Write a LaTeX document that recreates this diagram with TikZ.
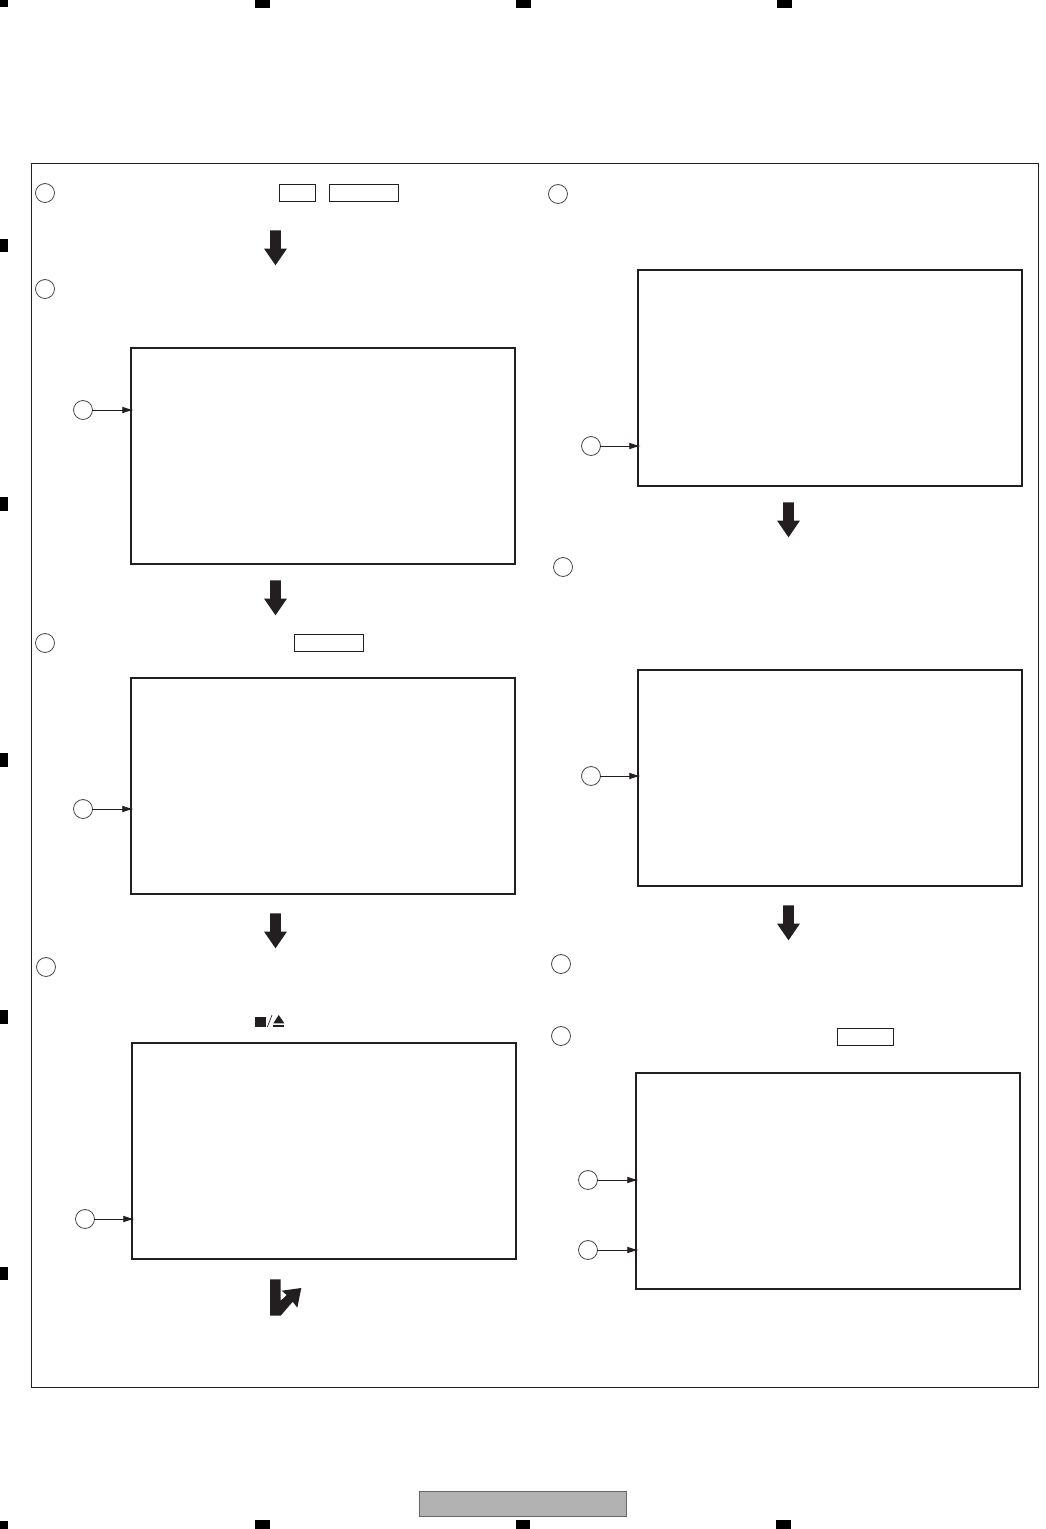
\documentclass[tikz,border=0pt]{standalone}
\usepackage{xcolor}
\definecolor{inkBlack}{HTML}{231F20}
\definecolor{footerGray}{HTML}{B2B2B2}
\definecolor{footerEdge}{HTML}{666666}
\usepackage{tikz}
\usetikzlibrary{shapes, arrows.meta, positioning, calc}

\begin{document}
\begin{tikzpicture}[
        x=0.75pt, y=-0.75pt,
        outerFrame/.style={
            draw=inkBlack,
            line width=0.7pt,
            inner sep=0pt,
            outer sep=0pt,
            minimum width=755.6pt,
            minimum height=918pt
        },
        screenNode/.style={
            draw=inkBlack,
            line width=1.6pt,
            inner sep=0pt,
            outer sep=0pt,
            minimum width=288pt,
            minimum height=162pt
        },
        keyNode/.style={
            draw=inkBlack,
            line width=0.7pt,
            inner sep=0pt,
            outer sep=0pt,
            minimum height=13.2pt
        },
        stepCircle/.style={
            circle,
            draw=inkBlack!85,
            line width=0.6pt,
            inner sep=0pt,
            outer sep=0pt,
            minimum size=14.2pt
        },
        leadLine/.style={
            -{Latex[length=8.5pt,width=5pt]},
            inkBlack,
            line width=0.6pt,
            shorten >=-2pt
        },
        downArrow/.style={
            single arrow,
            fill=inkBlack,
            draw=none,
            rotate=-90,
            inner xsep=0pt,
            inner ysep=3.75pt,
            outer sep=0pt,
            minimum height=26.2pt,
            minimum width=16.8pt,
            single arrow head extend=4.6pt,
            single arrow tip angle=69
        },
        topMark/.style={
            fill=black,
            inner sep=0pt,
            outer sep=0pt,
            minimum width=11.2pt,
            minimum height=6pt
        },
        sideMark/.style={
            fill=black,
            inner sep=0pt,
            outer sep=0pt,
            minimum width=6pt,
            minimum height=10.2pt
        }
    ]
    \useasboundingbox (0, 0) rectangle (1046, 1529);

    % Trim marks
    \node[topMark, minimum width=6pt, minimum height=5.4pt] (cornerTop) at (4, 3.6) {};
    \node[topMark] (markTopA) at (262.5, 4) {};
    \node[topMark] (markTopB) at (523.5, 4) {};
    \node[topMark] (markTopC) at (784.5, 4) {};
    \node[sideMark] (markLeftA) at (4, 245.5) {};
    \node[sideMark] (markLeftB) at (4, 504) {};
    \node[sideMark] (markLeftC) at (4, 760) {};
    \node[sideMark] (markLeftD) at (4, 1017) {};
    \node[sideMark] (markLeftE) at (4, 1273.5) {};
    \node[topMark, minimum width=6pt] (cornerBottom) at (4, 1524.5) {};
    \node[topMark, minimum height=6.8pt] (markBottomA) at (262.5, 1524.5) {};
    \node[topMark, minimum height=6.8pt] (markBottomB) at (523, 1524.5) {};
    \node[topMark, minimum height=6.8pt] (markBottomC) at (783.5, 1524.5) {};

    % Outer frame
    \node[outerFrame] (frame) at (534.7, 775) {};

    % Screens left
    \node[screenNode] (screenA) at (323, 456) {};
    \node[screenNode] (screenB) at (323, 786) {};
    \node[screenNode] (screenC) at (324, 1151) {};

    % Screens right
    \node[screenNode] (screenD) at (830, 378) {};
    \node[screenNode] (screenE) at (830, 778) {};
    \node[screenNode] (screenF) at (828, 1181) {};

    % Step circles
    \node[stepCircle] (stepA) at (45, 193) {};
    \node[stepCircle] (stepB) at (45, 289) {};
    \node[stepCircle] (stepC) at (45, 643) {};
    \node[stepCircle] (stepD) at (46, 967) {};
    \node[stepCircle] (stepE) at (558, 194) {};
    \node[stepCircle] (stepF) at (563, 567) {};
    \node[stepCircle] (stepG) at (561, 964) {};
    \node[stepCircle] (stepH) at (561, 1036) {};

    % Key boxes
    \node[keyNode, minimum width=27.2pt] (keyA) at (297.2, 193) {};
    \node[keyNode, minimum width=52pt] (keyB) at (363.7, 193) {};
    \node[keyNode, minimum width=52pt, minimum height=12.7pt] (keyC) at (328.7, 642.5) {};
    \node[keyNode, minimum width=42.2pt, minimum height=12.7pt] (keyD) at (865.2, 1036.5) {};

    % Down arrows
    \node[downArrow] (arrowA) at (275.5, 244) {};
    \node[downArrow] (arrowB) at (275.5, 594) {};
    \node[downArrow] (arrowC) at (275.5, 927) {};
    \node[downArrow] (arrowD) at (788.5, 516) {};
    \node[downArrow] (arrowE) at (788.5, 919) {};

    % Bent arrow
    \fill[inkBlack] (270, 1279.3) -- (280.7, 1279.3) -- (280.7, 1300.7) -- (286.7, 1295)
        -- (281.7, 1290.7) -- (301.3, 1288) -- (297.3, 1307.7) -- (292.7, 1301.7)
        -- (280.7, 1315.7) -- (270, 1315.7) -- cycle;

    % Stop and eject symbol
    \fill[inkBlack] (255, 1017) rectangle (266, 1027);
    \draw[inkBlack, line width=0.5pt] (267.3, 1027) -- (272, 1015);
    \fill[inkBlack] (273.3, 1023.3) -- (278.8, 1015) -- (284.3, 1023.3) -- cycle;
    \fill[inkBlack] (273.3, 1024.7) rectangle (284.3, 1026.7);

    % Leader circles
    \node[stepCircle] (leadA) at (83, 410) {};
    \node[stepCircle] (leadB) at (83, 809) {};
    \node[stepCircle] (leadC) at (85, 1219) {};
    \node[stepCircle] (leadD) at (591, 446) {};
    \node[stepCircle] (leadE) at (591, 776) {};
    \node[stepCircle] (leadF) at (588, 1180) {};
    \node[stepCircle] (leadG) at (588, 1250) {};

    % Leaders
    \draw[leadLine] (leadA.east) -- (leadA.east -| screenA.west);
    \draw[leadLine] (leadB.east) -- (leadB.east -| screenB.west);
    \draw[leadLine] (leadC.east) -- (leadC.east -| screenC.west);
    \draw[leadLine] (leadD.east) -- (leadD.east -| screenD.west);
    \draw[leadLine] (leadE.east) -- (leadE.east -| screenE.west);
    \draw[leadLine] (leadF.east) -- (leadF.east -| screenF.west);
    \draw[leadLine] (leadG.east) -- (leadG.east -| screenF.west);

    % Footer bar
    \node[draw=footerEdge, fill=footerGray, line width=0.8pt, inner sep=0pt, outer sep=0pt,
        minimum width=155.6pt, minimum height=18.8pt] (footerBar) at (523, 1504.2) {};
\end{tikzpicture}
\end{document}
